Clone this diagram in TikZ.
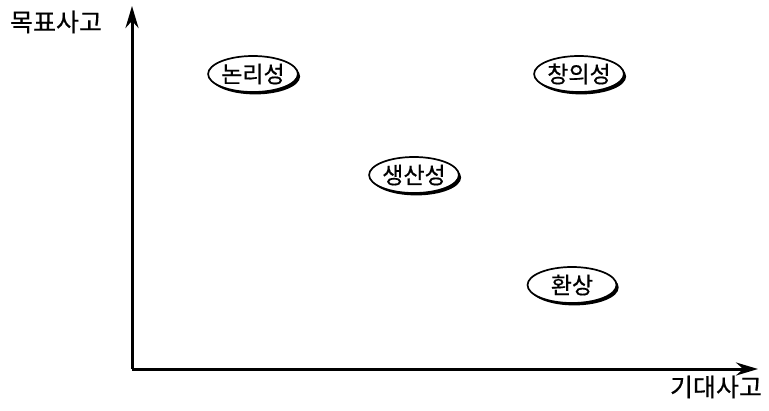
\documentclass[tikz,border=0pt]{standalone}
\usepackage{fontspec}
\newfontfamily\kofont[FakeBold=0.5]{Noto Sans CJK KR}
\usetikzlibrary{arrows.meta,shadows,shapes.geometric}
\begin{document}
\begin{tikzpicture}[x=1pt, y=-1pt, >={Stealth[length=22pt,width=13pt]}]
        \tikzstyle{idea}=[draw, shape=ellipse, line width=1.7pt, fill=white, minimum width=89pt, minimum height=36pt, inner sep=0pt, font=\kofont\fontsize{23}{23}\selectfont, drop shadow={shadow xshift=2.2pt, shadow yshift=-2.4pt, fill=black, opacity=1}]
        \tikzstyle{axislabel}=[font=\kofont\fontsize{25}{25}\selectfont, inner sep=0pt]

        \useasboundingbox (0,0) rectangle (769,410);

        \coordinate (origin) at (132,369);
        \coordinate (ytip) at (132,6);
        \coordinate (xtip) at (758,369);

        \node[axislabel](ylabel) at (56,22){목표사고};
        \node[axislabel](xlabel) at (716,387){기대사고};

        \node[idea](logic) at (253,74){논리성};
        \node[idea](creative) at (579,74){창의성};
        \node[idea](product) at (414,175){생산성};
        \node[idea](fantasy) at (572,285){환상};

        \draw[->, line width=3pt] (origin) -- (ytip);
        \draw[->, line width=3pt] (origin) -- (xtip);

        \end{tikzpicture}
\end{document}
